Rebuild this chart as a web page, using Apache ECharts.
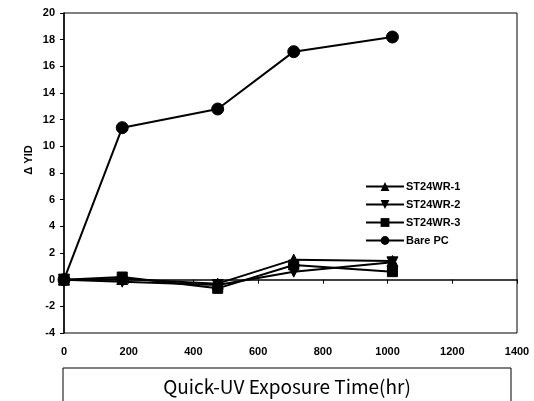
<!DOCTYPE html>
<html>
<head>
<meta charset="utf-8">
<script src="https://cdn.jsdelivr.net/npm/echarts@6/dist/echarts.min.js"></script>
<style>html,body{margin:0;padding:0;background:#fff}#c{width:534px;height:401px}</style>
</head>
<body>
<div id="c"></div>
<script>
var times = [0, 180, 475, 710, 1015];
var st1 = [0, 0.05, -0.3, 1.5, 1.4];
var st2 = [0, -0.15, -0.4, 0.6, 1.3];
var st3 = [0, 0.2, -0.65, 1.1, 0.6];
var bare = [0, 11.4, 12.8, 17.1, 18.2];
var seriesNames = ['ST24WR-1', 'ST24WR-2', 'ST24WR-3', 'Bare PC'];
var xTitle = 'Quick-UV Exposure Time(hr)';
var yTitle = 'Δ YID';

function pts(v){ return times.map(function(t,i){ return [t, v[i]]; }); }
var chart = echarts.init(document.getElementById('c'), null, {renderer:'canvas'});
var lbl = {color:'#000', fontFamily:'Liberation Sans, Arial', fontWeight:'bold', fontSize:11};
function mk(name, data, sym, size, rot){
  return {name:name, type:'line', data:pts(data), symbol:sym, symbolSize:size, symbolRotate:rot||0,
    lineStyle:{color:'#000', width:2}, itemStyle:{color:'#000', borderColor:'#000'}, z:3, animation:false};
}
chart.setOption({
  animation:false,
  grid:{left:64, right:17, top:13, bottom:68, show:true, borderColor:'#000', borderWidth:1},
  xAxis:{type:'value', min:0, max:1400, interval:200,
    axisLine:{lineStyle:{color:'#000', width:1.5}}, axisTick:{inside:false, length:4, lineStyle:{color:'#000'}},
    splitLine:{show:false}, axisLabel:Object.assign({margin:13, formatter:function(v){return String(v);}}, lbl)},
  yAxis:{type:'value', min:-4, max:20, interval:2,
    axisLine:{show:true, lineStyle:{color:'#000', width:1.5}}, axisTick:{show:true, length:4, lineStyle:{color:'#000'}},
    splitLine:{show:false}, axisLabel:Object.assign({margin:9}, lbl)},
  legend:{orient:'vertical', left:360, top:176, itemWidth:38, itemHeight:11, itemGap:7,
    data:seriesNames, textStyle:{color:'#000', fontFamily:'Liberation Sans, Arial', fontWeight:'bold', fontSize:11, padding:[0,0,0,-3]}},
  graphic:[
    {type:'rect', shape:{x:63, y:368, width:448, height:40}, style:{fill:'none', stroke:'#000', lineWidth:1}},
    {type:'text', x:287, y:387, style:{text:xTitle, font:'normal 19px "Noto Sans CJK KR"', fill:'#000', align:'center', verticalAlign:'middle'}},
    {type:'text', x:29, y:160, rotation:Math.PI/2, style:{text:yTitle, font:'bold 11px "Liberation Sans", Arial', fill:'#000', align:'center', verticalAlign:'middle'}}
  ],
  series:[
    mk(seriesNames[0], st1, 'triangle', 11),
    mk(seriesNames[1], st2, 'triangle', 11, 180),
    mk(seriesNames[2], st3, 'rect', 10),
    mk(seriesNames[3], bare, 'circle', 12)
  ]
});
</script>
</body>
</html>
